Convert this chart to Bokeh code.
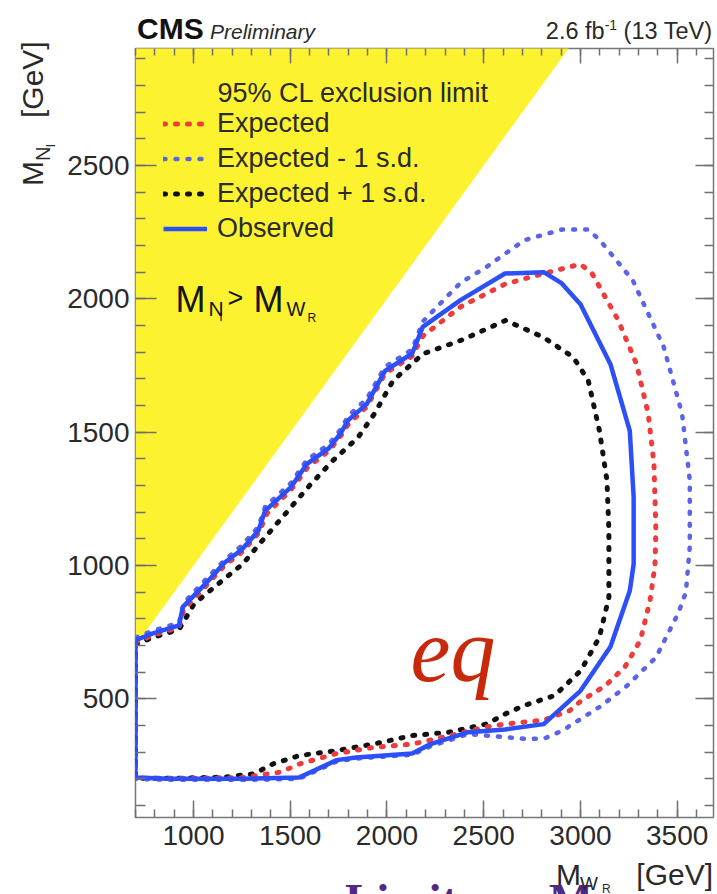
from bokeh.plotting import figure
from bokeh.layouts import column
from bokeh.models import (Range1d, LinearAxis, Label, Legend, LegendItem,
                          FixedTicker, CustomJSTickFormatter, Div)
from bokeh.embed import file_html
from bokeh.resources import INLINE

# ---------------- data ----------------
x_ticks = [1000, 1500, 2000, 2500, 3000, 3500]
y_ticks = [500, 1000, 1500, 2000, 2500]

# kinematically forbidden region M_N > M_W
kin_x = [700, 3000, 700]
kin_y = [700, 3000, 3000]

obs_x = [700, 790, 925, 945, 1060, 1160, 1250, 1335, 1370, 1505, 1585, 1700, 1760, 1800, 1895,
         1990, 2130, 2185, 2380, 2610, 2810, 2900, 3000, 3155, 3255, 3275, 3275, 3255, 3155,
         3000, 2810, 2610, 2420, 2225, 2130, 1840, 1740, 1545, 1255, 870, 700, 700]
obs_y = [720, 745, 775, 845, 930, 1010, 1060, 1130, 1205, 1295, 1380, 1440, 1495, 1545, 1605,
         1730, 1795, 1895, 1995, 2095, 2100, 2060, 1980, 1755, 1505, 1255, 1005, 905, 695,
         530, 405, 385, 375, 330, 295, 280, 270, 205, 200, 200, 205, 720]

exp_x = [700, 790, 925, 950, 1060, 1160, 1250, 1335, 1380, 1505, 1590, 1700, 1760, 1800, 1895,
         1990, 2130, 2185, 2380, 2610, 2810, 3000, 3060, 3195, 3290, 3350, 3380, 3390, 3385,
         3360, 3310, 3230, 3130, 3000, 2945, 2810, 2610, 2515, 2325, 2130, 1935, 1740, 1545,
         1450, 1255, 1000, 700, 700]
exp_y = [712, 738, 768, 835, 920, 1000, 1050, 1120, 1195, 1285, 1368, 1430, 1485, 1530, 1595,
         1720, 1785, 1860, 1970, 2055, 2095, 2130, 2095, 1920, 1755, 1570, 1380, 1130, 1000,
         870, 720, 620, 550, 490, 456, 420, 405, 395, 362, 330, 318, 295, 255,
         225, 205, 202, 202, 712]

m1_x = [700, 790, 925, 950, 1060, 1160, 1250, 1335, 1370, 1505, 1585, 1700, 1760, 1800, 1895,
        1990, 2130, 2185, 2380, 2515, 2710, 2905, 3040, 3100, 3270, 3430, 3525, 3565, 3565,
        3545, 3505, 3390, 3235, 3100, 2905, 2810, 2710, 2515, 2420, 2225, 2130, 1840, 1740,
        1545, 1255, 870, 700, 700]
m1_y = [730, 755, 785, 860, 945, 1020, 1075, 1145, 1220, 1310, 1395, 1455, 1510, 1560, 1625,
        1745, 1810, 1915, 2060, 2120, 2220, 2260, 2260, 2220, 2070, 1820, 1570, 1320, 1070,
        900, 820, 655, 545, 470, 380, 350, 350, 362, 368, 322, 290, 276, 265,
        200, 196, 196, 200, 730]

p1_x = [700, 790, 925, 1004, 1160, 1256, 1340, 1489, 1600, 1721, 1850, 1935, 2032, 2187, 2381,
        2613, 2808, 2963, 3040, 3098, 3137, 3147, 3147, 3098, 3002, 2866, 2710, 2613, 2517,
        2323, 2129, 1935, 1741, 1547, 1411, 1314, 1159, 900, 700, 700]
p1_y = [705, 730, 760, 857, 950, 1007, 1080, 1206, 1300, 1394, 1480, 1569, 1694, 1794, 1844,
        1919, 1856, 1781, 1694, 1506, 1319, 1131, 881, 731, 606, 512, 475, 444, 406,
        375, 362, 331, 306, 287, 256, 219, 206, 202, 202, 705]

# ---------------- figure ----------------
W, H = 717, 894
FL, FR, FT, FB = 135, 713, 48, 817   # frame edges on the page
XR = (700, 700 + (FR - FL) / 0.19346)
YR = (500 - (FB - 698.3) / 0.26665, 2500 + (165 - FT) / 0.26665)


def dx(px):
    return XR[0] + (px - FL) * (XR[1] - XR[0]) / (FR - FL)


def dy(py):
    return YR[0] + (FB - py) * (YR[1] - YR[0]) / (FB - FT)


p = figure(width=W, height=H, x_range=Range1d(*XR), y_range=Range1d(*YR),
           output_backend="svg", toolbar_location=None,
           min_border_left=FL, min_border_right=W - FR, min_border_top=FT,
           min_border_bottom=H - FB, margin=(0, 0, 0, 0))
p.grid.visible = False
p.background_fill_color = "white"
p.border_fill_color = None
p.outline_line_color = "#777777"
p.outline_line_width = 1.5

FONT = "Liberation Sans"
TXT = "#2a2a2a"
TICKC = "#707070"

xt = FixedTicker(ticks=x_ticks, minor_ticks=list(range(700, 3700, 100)))
yt = FixedTicker(ticks=y_ticks, minor_ticks=list(range(100, 3000, 100)))


def style_axis(ax, major, minor, show):
    ax.axis_line_color = None
    ax.major_tick_in = major
    ax.major_tick_out = 0
    ax.minor_tick_in = minor
    ax.minor_tick_out = 0
    ax.major_tick_line_color = TICKC
    ax.minor_tick_line_color = TICKC
    ax.major_tick_line_width = 1.5
    ax.minor_tick_line_width = 1.5
    if show:
        ax.major_label_text_font = FONT
        ax.major_label_text_font_size = "28px"
        ax.major_label_text_color = TXT
    else:
        ax.formatter = CustomJSTickFormatter(code="return ''")
        ax.major_label_standoff = 0
        ax.major_label_text_font_size = "1px"


p.xaxis.ticker = xt
p.yaxis.ticker = yt
style_axis(p.xaxis[0], 17, 8, True)
style_axis(p.yaxis[0], 21, 10, True)
p.xaxis.major_label_standoff = 8
p.yaxis.major_label_standoff = 6

top = LinearAxis(ticker=xt)
style_axis(top, 15, 7, False)
p.add_layout(top, "above")
right = LinearAxis(ticker=yt)
style_axis(right, 18, 9, False)
p.add_layout(right, "right")

# kinematic region
p.patch(kin_x, kin_y, fill_color="#fdf22f", line_color=None)

r_p1 = p.line(p1_x, p1_y, line_color="#111111", line_width=5, line_dash="2 10", line_cap="round")
r_exp = p.line(exp_x, exp_y, line_color="#ef3b3b", line_width=5, line_dash="2 10", line_cap="round")
r_m1 = p.line(m1_x, m1_y, line_color="#5b63e6", line_width=4.5, line_dash="2 10", line_cap="round")
r_obs = p.line(obs_x, obs_y, line_color="#2b4ff8", line_width=4.5)

legend = Legend(items=[LegendItem(label="Expected", renderers=[r_exp]),
                       LegendItem(label="Expected - 1 s.d.", renderers=[r_m1]),
                       LegendItem(label="Expected + 1 s.d.", renderers=[r_p1]),
                       LegendItem(label="Observed", renderers=[r_obs])],
                location=(28, 573), orientation="vertical",
                glyph_width=44, glyph_height=27, label_height=27, label_standoff=10,
                spacing=4, padding=0, margin=0, border_line_color=None,
                background_fill_alpha=0, label_text_font=FONT,
                label_text_font_size="27px", label_text_color=TXT)
p.add_layout(legend)


def lab(px, py, text, size, style="normal", color=TXT, align="left",
        font=FONT, baseline="alphabetic"):
    p.add_layout(Label(x=dx(px), y=dy(py), text=text, text_font=font,
                       text_font_size=f"{size}px", text_font_style=style,
                       text_color=color, text_align=align, text_baseline=baseline))


# legend header
lab(217, 92, "95% CL exclusion limit", 27, baseline="middle")

# M_N > M_W text
INK = "#151515"
lab(175, 299, "M", 36, color=INK)
lab(208, 308, "N", 21, color=INK)
lab(219, 316, "l", 13, color=INK)
lab(227, 297, ">", 27, color=INK)
lab(253, 299, "M", 36, color=INK)
lab(286, 308, "W", 20, color=INK)
lab(307, 317, "R", 12, color=INK)

# overlay text
lab(410, 650, "eq", 90, style="italic", color="#c8290a", font="Liberation Serif")

# ---------- texts outside the frame: HTML overlay ----------
K = 0.3465  # baseline offset (fraction of font size) for line-height 0


def span(x, base, text, size, weight="normal", style="normal", color=TXT,
         align="left", rotate=False, font=FONT):
    css = (f"position:absolute;white-space:nowrap;line-height:0;"
           f"font-family:'{font}';font-size:{size}px;font-weight:{weight};"
           f"font-style:{style};color:{color};")
    if rotate:
        css += (f"left:{x - K * size:.1f}px;top:{base:.1f}px;"
                f"transform-origin:0 0;transform:rotate(-90deg);")
    elif align == "right":
        css += f"right:{W - x:.1f}px;top:{base - K * size:.1f}px;"
    else:
        css += f"left:{x:.1f}px;top:{base - K * size:.1f}px;"
    return f'<span style="{css}">{text}</span>'


sup = '<span style="font-size:14px;line-height:0;position:relative;top:-9px">-1</span>'
pieces = [
    # slide text behind the chart, mostly below the picture's edge
    span(345, 916, "Limits on M", 47, weight="bold", color="#4e2a84", font="Liberation Serif"),
    span(137, 39, "CMS", 30, weight="bold", color="#111111"),
    span(210, 39, "Preliminary", 21, style="italic"),
    span(712, 39, f"2.6 fb{sup} (13 TeV)", 23.5, align="right"),
    # y axis title (reads upward)
    span(43, 186, "M", 30, rotate=True),
    span(50, 161, "N", 20, rotate=True),
    span(55, 147, "l", 13, rotate=True),
    span(43, 118, "[GeV]", 30, rotate=True),
    # x axis title
    span(556, 885, "M", 30),
    span(580, 891, "W", 19),
    span(602, 893, "R", 12),
    span(713, 885, "[GeV]", 30, align="right"),
]
html = ('<div style="position:relative;width:717px;height:894px;overflow:hidden;">'
        + "".join(pieces) + "</div>")
overlay = Div(text=html, width=W, height=H, margin=(-H, 0, 0, 0))

layout = column(p, overlay, spacing=0)
open("out.html", "w").write(file_html(layout, INLINE))
